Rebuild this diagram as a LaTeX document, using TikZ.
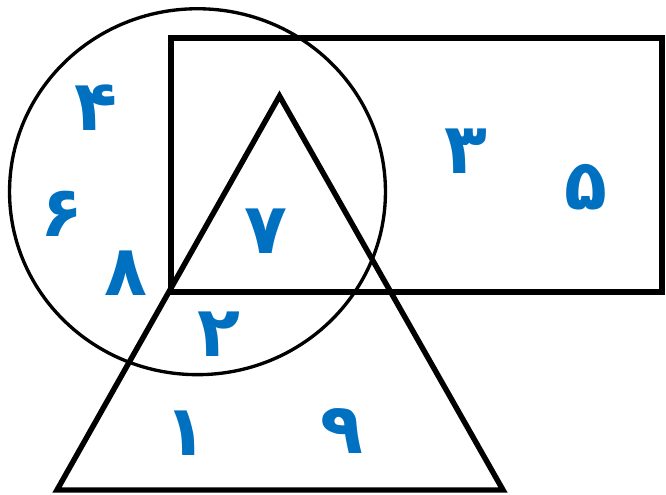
\documentclass[tikz,border=0pt]{standalone}
\usepackage{fontspec}
\newfontfamily\arabicfont[Script=Arabic]{DejaVu Sans}
\usetikzlibrary{positioning}
\definecolor{digitBlue}{HTML}{0070C0}

\begin{document}
\begin{tikzpicture}[
    x=0.02cm, y=-0.02cm,
    shapeline/.style={draw=black, line width=3.1pt, line join=miter},
    ringline/.style={draw=black, line width=1.9pt},
    digit/.style={text=digitBlue, inner sep=0pt,
                  font=\arabicfont\bfseries\fontsize{40}{40}\selectfont},
  ]
    \useasboundingbox (0,0) rectangle (666,494);

    % the three sets
    \draw[ringline] (197.5,191.7) ellipse [x radius=3.76cm, y radius=3.66cm];
    \draw[shapeline] (171,38) rectangle (662,292);
    \draw[shapeline] (279.5,96) -- (503,490) -- (57,490) -- cycle;

    % region labels
    \node[digit] (d4) at (96,108) {۴};
    \node[digit] (d6) at (62,214) {۶};
    \node[digit] (d8) at (126,273) {۸};
    \node[digit] (d7) at (266,231) {۷};
    \node[digit] (d3) at (466,151) {۳};
    \node[digit] (d5) at (586,187) {۵};
    \node[digit] (d2) at (219,334) {۲};
    \node[digit] (d1) at (186,433) {۱};
    \node[digit] (d9) at (342,431) {۹};
  \end{tikzpicture}
\end{document}
